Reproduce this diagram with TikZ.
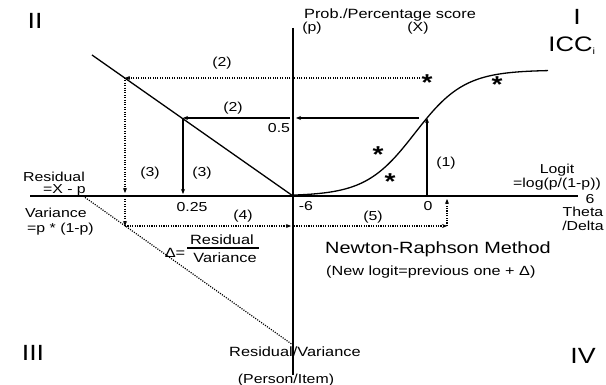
\documentclass[tikz,border=0pt]{standalone}
\usepackage{fontspec}
\setmainfont[FakeStretch=1.22]{Liberation Sans}
\usetikzlibrary{arrows.meta}
\tikzset{
  axisline/.style={line width=1.5pt},
  sol/.style={line width=1.3pt},
  dotl/.style={line width=1.2pt, dash pattern=on 1.1pt off 1.3pt},
  arr/.style={-{Stealth[length=5pt,width=4pt]}},
  lbl/.style={font=\fontsize{13}{13}\selectfont, inner sep=0},
  mid/.style={font=\fontsize{13.4}{14}\selectfont, inner sep=0},
  big/.style={font=\fontsize{22}{24}\selectfont, inner sep=0},
  starmark/.style={font=\fontsize{23}{23}\selectfont\bfseries, inner sep=0, anchor=base, yshift=-13.5pt}
}
\begin{document}
\begin{tikzpicture}[x=1pt,y=-1pt]
\useasboundingbox (0,0) rectangle (606,385);
% key points
\coordinate (O) at (293,196);
\coordinate (vtop) at (293,28);
\coordinate (vbot) at (293,375);
\coordinate (hl) at (30,196);
\coordinate (hr) at (578,196);
\coordinate (dtop) at (92,55);
\coordinate (dd0) at (83,196);
\coordinate (ddend) at (293,345);
\coordinate (S1) at (420,78);
\coordinate (A) at (125,78);
\coordinate (Ax0) at (125,193);
\coordinate (C) at (427,118);
\coordinate (Cr) at (419,118);
\coordinate (Cax) at (296,118);
\coordinate (Cax2) at (290,118);
\coordinate (B) at (183,118);
\coordinate (Bx0) at (183,194);
\coordinate (Cx0) at (427,196);
\coordinate (Ad) at (125,199);
\coordinate (D) at (125,226);
\coordinate (E) at (291,226);
\coordinate (E2) at (294,226);
\coordinate (F) at (447,226);
\coordinate (Fx0) at (447,199);
% axes
\draw[axisline] (vtop) -- (vbot);
\draw[axisline] (hl) -- (hr);
% diagonals
\draw[sol] (dtop) -- (O);
\draw[dotl] (dd0) -- (ddend);
% ICC curve
\draw[sol] plot[domain=293:548, samples=120, smooth] (\x, {196-126/(1+exp(-(\x-415)/24.7))});
% arrows
\draw[dotl, arr] (S1) -- (A);
\draw[dotl, arr] (A) -- (Ax0);
\draw[sol, arr] (Cr) -- (Cax);
\draw[sol, arr] (Cax2) -- (B);
\draw[sol, arr] (B) -- (Bx0);
\draw[sol, arr] (Cx0) -- (C);
\draw[dotl, arr] (Ad) -- (D);
\draw[dotl, arr] (D) -- (E);
\draw[dotl, arr] (E2) -- (F);
\draw[dotl, arr] (F) -- (Fx0);
% stars
\node[starmark] (st1) at (427,77) {*};
\node[starmark] (st2) at (497,79) {*};
\node[starmark] (st3) at (378,149) {*};
\node[starmark] (st4) at (390,176) {*};
% step labels
\node[lbl] (l2a) at (222,63) {(2)};
\node[lbl] (l2b) at (233,108) {(2)};
\node[lbl] (l3a) at (150,173) {(3)};
\node[lbl] (l3b) at (202,173) {(3)};
\node[lbl] (l1) at (446,163) {(1)};
\node[lbl] (l4) at (243,216) {(4)};
\node[lbl] (l5) at (373,217) {(5)};
% values
\node[lbl] (v05) at (279,128) {0.5};
\node[lbl] (v025) at (192,207) {0.25};
\node[lbl] (vm6) at (306,206) {-6};
\node[lbl] (v0) at (428,206) {0};
\node[lbl] (v6) at (590,199) {6};
% axis texts
\node[mid] (prob) at (390,15) {Prob./Percentage score};
\node[lbl] (pp) at (312,28) {(p)};
\node[lbl] (px) at (418,28) {(X)};
\node[lbl] (logit) at (557,170) {Logit};
\node[lbl] (logf) at (557,184) {=log(p/(1-p))};
\node[lbl] (theta) at (583,212) {Theta};
\node[lbl] (delta) at (583,226) {/Delta};
\node[lbl, anchor=east] (resid) at (85,177) {Residual};
\node[lbl, anchor=east] (resf) at (86,190) {=X - p};
\node[lbl, anchor=west] (var) at (25,213) {Variance};
\node[lbl, anchor=west] (varf) at (27,229) {=p * (1-p)};
% Delta fraction
\node[mid] (dlt) at (175,253) {Δ=};
\node[mid] (fnum) at (222,240) {Residual};
\node[mid] (fden) at (225,258) {Variance};
\coordinate (fb1) at (187,248);
\coordinate (fb2) at (259,248);
\draw[line width=1.3pt] (fb1) -- (fb2);
% Newton-Raphson
\node[font=\fontsize{16.3}{18}\selectfont, inner sep=0, anchor=west] (nr) at (325,249) {Newton-Raphson Method};
\node[font=\fontsize{13.3}{14}\selectfont, inner sep=0, anchor=west] (nrf) at (326,272) {(New logit=previous one + Δ)};
% bottom
\node[mid, anchor=west] (rv) at (229,352) {Residual/Variance};
\node[lbl] (pi) at (286,380) {(Person/Item)};
% quadrants
\node[big] (q2) at (35,21) {II};
\node[big] (q1) at (577,17) {I};
\node[font=\fontsize{21}{22}\selectfont, inner sep=0] (icc) at (572,46) {ICC\textsubscript{\fontsize{9}{9}\selectfont i}};
\node[big] (q3) at (33,353) {III};
\node[big] (q4) at (583,356) {IV};
\end{tikzpicture}
\end{document}
